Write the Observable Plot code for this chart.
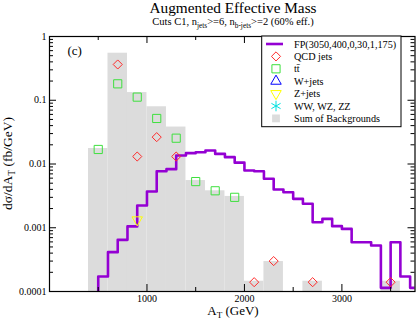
<!DOCTYPE html>
<html><head><meta charset="utf-8">
<script src="https://cdn.jsdelivr.net/npm/d3@7"></script>
<script src="https://cdn.jsdelivr.net/npm/@observablehq/plot@0.6"></script>
<style>body{margin:0;background:#fff;}</style>
</head><body><div id="chart"></div>
<script>
// ---- data ----
const xMajorTicks = [1000, 2000, 3000];
const xMinorTicks = [500, 1500, 2500, 3500];
const yMajorTicks = [0.0001, 0.001, 0.01, 0.1, 1];
const yTickLabels = ["0.0001", "0.001", "0.01", "0.1", "1"];

// Sum of backgrounds (200 GeV bins, lower edges)
const bgBinWidth = 200;
const bgBinStart = [400, 600, 800, 1000, 1200, 1400, 1600, 1800, 2000, 2200, 2600, 3400];
const bgBinValue = [0.0175, 0.547, 0.132, 0.079, 0.038, 0.0055, 0.0038, 0.0031, 0.000145, 0.000295, 0.000145, 0.000145];

// Signal FP(3050,400,0,30,1,175): 100 GeV bins from 500 GeV
const sigFirstEdge = 500;
const sigBinWidth = 100;
const sigValues = [0.000172, 0.000414, 0.000646, 0.00105, 0.00223, 0.0037, 0.0077, 0.0083,
  0.0136, 0.0148, 0.0153, 0.0163, 0.0144, 0.0128, 0.0105, 0.0079, 0.0077, 0.00586,
  0.00398, 0.00361, 0.00284, 0.00238, 0.00122, 0.00138, 0.00106, 0.00096, 0.000593,
  0.000593, 0.000527, 0.000114, 0.000593, 0.000172, 0.000114];

// Individual backgrounds (bin centres)
const qcdX = [700, 900, 1100, 1300, 2100, 2300, 2700, 3500];
const qcdY = [0.364, 0.0131, 0.0264, 0.0131, 0.00014, 0.0003, 0.00014, 0.00014];
const ttX = [500, 700, 900, 1100, 1300, 1500, 1700, 1900];
const ttY = [0.0169, 0.181, 0.112, 0.0518, 0.0254, 0.0053, 0.0038, 0.0030];
const zjX = [900];
const zjY = [0.00133];

const legendLabels = ["FP(3050,400,0,30,1,175)", "QCD jets", "tt\u0304", "W+jets", "Z+jets", "WW, WZ, ZZ", "Sum of Backgrounds"];

// ---- styles ----
const colFP = "#9400d3", colQCD = "#ff2a2a", colTT = "#3ee03e", colW = "#0000ff", colZ = "#ffff00", colWW = "#00e0e0", colBG = "#dcdcdc";
const W = 417, H = 321, mL = 49, mR = 2.5, mT = 36, mB = 30;
const fw = W - mL - mR, fh = H - mT - mB;
const yDomain = [yMajorTicks[0], yMajorTicks[yMajorTicks.length - 1]];
const majorLen = 7, minorLen = 4;
const rDiamond = 4.1, rSquare = 5.2, rTri = 5.0, rStar = 5.0;

const bg = bgBinStart.map((s, i) => ({x1: s, x2: s + bgBinWidth, v: bgBinValue[i]}));
const sig = [{x: sigFirstEdge, y: yDomain[0]}]
  .concat(sigValues.map((v, i) => ({x: sigFirstEdge + i * sigBinWidth, y: v})))
  .concat([{x: sigFirstEdge + sigValues.length * sigBinWidth, y: sigValues[sigValues.length - 1]}]);
const qcd = qcdX.map((x, i) => ({x, y: qcdY[i]}));
const tt = ttX.map((x, i) => ({x, y: ttY[i]}));
const zj = zjX.map((x, i) => ({x, y: zjY[i]}));
const yMinorTicks = [];
yMajorTicks.slice(0, -1).forEach(d => { for (let k = 2; k <= 9; k++) yMinorTicks.push(d * k); });

const plot = Plot.plot({
  width: W, height: H, marginLeft: mL, marginRight: mR, marginTop: mT, marginBottom: mB,
  x: {domain: [0, 3750], axis: null},
  y: {type: "log", domain: yDomain, axis: null},
  style: {fontFamily: "'Liberation Serif', 'Times New Roman', serif", fontSize: "10px", background: "white", color: "black"},
  marks: [
    Plot.rectY(bg, {x1: "x1", x2: "x2", y1: yDomain[0], y2: "v", fill: colBG}),
    Plot.line(sig, {x: "x", y: "y", curve: "step-after", stroke: colFP, strokeWidth: 2.6, clip: true}),
    Plot.dot(tt, {x: "x", y: "y", symbol: "square2", r: rSquare, stroke: colTT, fill: "none", strokeWidth: 1}),
    Plot.dot(qcd, {x: "x", y: "y", symbol: "diamond2", r: rDiamond, stroke: colQCD, fill: "none", strokeWidth: 1}),
    Plot.dot(zj, {x: "x", y: "y", symbol: "triangle2", rotate: 180, r: rTri, stroke: colZ, fill: "none", strokeWidth: 1}),
    // inward ticks
    Plot.tickX(xMajorTicks, {x: d => d, insetTop: fh - majorLen, stroke: "black"}),
    Plot.tickX(xMinorTicks, {x: d => d, insetTop: fh - minorLen, stroke: "black"}),
    Plot.tickX(xMajorTicks, {x: d => d, insetBottom: fh - majorLen, stroke: "black"}),
    Plot.tickX(xMinorTicks, {x: d => d, insetBottom: fh - minorLen, stroke: "black"}),
    Plot.tickY(yMajorTicks, {y: d => d, insetRight: fw - majorLen, stroke: "black"}),
    Plot.tickY(yMinorTicks, {y: d => d, insetRight: fw - minorLen, stroke: "black"}),
    Plot.tickY(yMajorTicks, {y: d => d, insetLeft: fw - majorLen, stroke: "black"}),
    Plot.tickY(yMinorTicks, {y: d => d, insetLeft: fw - minorLen, stroke: "black"}),
    Plot.frame({stroke: "black", strokeWidth: 1.2}),
    Plot.text(yMajorTicks, {y: d => d, text: (d, i) => yTickLabels[i], frameAnchor: "left", textAnchor: "end", dx: -3, fontSize: 10}),
    Plot.text(xMajorTicks, {x: d => d, text: d => String(d), frameAnchor: "bottom", lineAnchor: "top", dy: 3, fontSize: 10})
  ]
});
document.getElementById("chart").appendChild(plot);

const svg = d3.select(plot);
const ff = "'Liberation Serif', 'Times New Roman', serif";
const cx = 233;
svg.append("text").attr("x", cx).attr("y", 13).attr("text-anchor", "middle")
  .attr("font-family", ff).attr("font-size", 15.3).attr("fill", "black").text("Augmented Effective Mass");

function richText(sel, parts, size) {
  parts.forEach(p => {
    if (p.sub) {
      sel.append("tspan").attr("font-size", size * 0.7).attr("dy", size * 0.25).text(p.t);
    } else {
      const t = sel.append("tspan").text(p.t);
      if (p.after) t.attr("dy", -size * 0.25);
    }
  });
}
const sub = svg.append("text").attr("x", cx).attr("y", 25).attr("text-anchor", "middle")
  .attr("font-family", ff).attr("font-size", 10.5).attr("fill", "black");
richText(sub, [{t: "Cuts C1, n"}, {t: "jets", sub: true}, {t: ">=6, n", after: true}, {t: "b-jets", sub: true}, {t: ">=2 (60% eff.)", after: true}], 10.5);

const xl = svg.append("text").attr("x", cx).attr("y", 315).attr("text-anchor", "middle")
  .attr("font-family", ff).attr("font-size", 13).attr("fill", "black");
richText(xl, [{t: "A"}, {t: "T", sub: true}, {t: " (GeV)", after: true}], 13);

const yl = svg.append("text").attr("transform", "translate(12,163.5) rotate(-90)").attr("text-anchor", "middle")
  .attr("font-family", ff).attr("font-size", 13.5).attr("fill", "black");
richText(yl, [{t: "d\u03c3/dA"}, {t: "T", sub: true}, {t: " (fb/GeV)", after: true}], 13.5);

svg.append("text").attr("x", 67.5).attr("y", 55).attr("text-anchor", "start")
  .attr("font-family", ff).attr("font-size", 13).attr("fill", "black").text("(c)");

// legend
const lg = svg.append("g");
const bx0 = 261.7, bx1 = 401, by0 = mT, by1 = 126.7;
lg.append("rect").attr("x", bx0).attr("y", by0).attr("width", bx1 - bx0).attr("height", by1 - by0)
  .attr("fill", "white").attr("stroke", "black").attr("stroke-width", 1);
const symX = 276, txtX = 294, y0 = 44, dyL = 12.4;
const sym = (type, r) => d3.symbol(type, Math.PI * r * r)();
legendLabels.forEach((lab, i) => {
  const y = y0 + i * dyL;
  if (i === 0) lg.append("line").attr("x1", 266).attr("x2", 283).attr("y1", y).attr("y2", y).attr("stroke", colFP).attr("stroke-width", 2.6);
  if (i === 1) lg.append("path").attr("d", sym(d3.symbolDiamond2, rDiamond)).attr("transform", `translate(${symX},${y})`).attr("fill", "none").attr("stroke", colQCD);
  if (i === 2) lg.append("path").attr("d", sym(d3.symbolSquare2, rSquare)).attr("transform", `translate(${symX},${y})`).attr("fill", "none").attr("stroke", colTT);
  if (i === 3) lg.append("path").attr("d", sym(d3.symbolTriangle2, rTri)).attr("transform", `translate(${symX},${y})`).attr("fill", "none").attr("stroke", colW);
  if (i === 4) lg.append("path").attr("d", sym(d3.symbolTriangle2, rTri)).attr("transform", `translate(${symX},${y}) rotate(180)`).attr("fill", "none").attr("stroke", colZ);
  if (i === 5) lg.append("path").attr("d", sym(d3.symbolAsterisk, rStar)).attr("transform", `translate(${symX},${y})`).attr("fill", "none").attr("stroke", colWW);
  if (i === 6) lg.append("rect").attr("x", symX - 3.9).attr("y", y - 3.9).attr("width", 7.8).attr("height", 7.8).attr("fill", colBG);
  lg.append("text").attr("x", txtX).attr("y", y + 3.6).attr("text-anchor", "start")
    .attr("font-family", ff).attr("font-size", 10.2).attr("fill", "black").text(lab);
});
</script>
</body></html>
